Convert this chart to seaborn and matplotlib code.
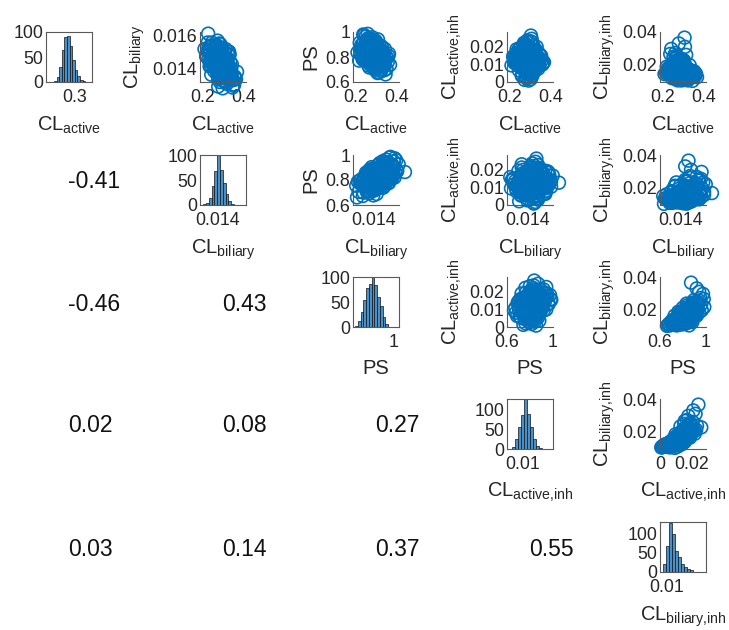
import numpy as np
import pandas as pd
import matplotlib
matplotlib.use("Agg")
import matplotlib.pyplot as plt
import seaborn as sns

# ---------------- data ----------------
cl_active = [0.271, 0.307, 0.274, 0.291, 0.254, 0.319, 0.293, 0.279, 0.249, 0.288,
             0.310, 0.327, 0.263, 0.299, 0.260, 0.282, 0.341, 0.235, 0.277, 0.302,
             0.321, 0.285, 0.296, 0.243, 0.305, 0.260, 0.291, 0.310, 0.268, 0.352,
             0.279, 0.265, 0.316, 0.313, 0.223, 0.285, 0.296, 0.282, 0.307, 0.251,
             0.324, 0.271, 0.274, 0.333, 0.240, 0.293, 0.302, 0.257, 0.299, 0.265,
             0.338, 0.277, 0.291, 0.302, 0.246, 0.288, 0.316, 0.254, 0.268, 0.361,
             0.225, 0.285, 0.291, 0.310, 0.271, 0.263, 0.330, 0.274, 0.293, 0.305,
             0.237, 0.260, 0.344, 0.285, 0.319, 0.257, 0.218, 0.307, 0.296, 0.279,
             0.313, 0.299, 0.232, 0.288, 0.279, 0.327, 0.282, 0.366, 0.268, 0.251,
             0.291, 0.299, 0.229, 0.277, 0.321, 0.307, 0.274, 0.246, 0.335, 0.257,
             0.279, 0.313, 0.257, 0.268, 0.296, 0.305, 0.240, 0.335, 0.293, 0.285,
             0.254, 0.299, 0.274, 0.221, 0.263, 0.324, 0.310, 0.279, 0.271, 0.347,
             0.291, 0.285, 0.249, 0.316, 0.265, 0.338, 0.282, 0.302, 0.229, 0.307,
             0.246, 0.330, 0.260, 0.293, 0.243, 0.319, 0.299, 0.277, 0.263, 0.288,
             0.355, 0.237, 0.291, 0.268, 0.313, 0.251, 0.265, 0.327, 0.282, 0.285,
             0.226, 0.310, 0.302, 0.257, 0.341, 0.305, 0.271, 0.277, 0.321, 0.260,
             0.215, 0.288, 0.319, 0.296, 0.240, 0.310, 0.288, 0.254, 0.358, 0.274,
             0.327, 0.268, 0.305, 0.232, 0.296, 0.279, 0.235, 0.302, 0.333, 0.249,
             0.285, 0.349, 0.263, 0.293, 0.251, 0.316, 0.271, 0.282, 0.324, 0.243,
             0.299, 0.307, 0.260, 0.265, 0.338, 0.279, 0.296, 0.207, 0.291, 0.313]
cl_biliary = [0.01447, 0.01381, 0.01480, 0.01403, 0.01441, 0.01414, 0.01490, 0.01386, 0.01485, 0.01452,
              0.01397, 0.01353, 0.01518, 0.01430, 0.01469, 0.01419, 0.01348, 0.01502, 0.01370, 0.01458,
              0.01392, 0.01436, 0.01425, 0.01529, 0.01326, 0.01463, 0.01474, 0.01408, 0.01408, 0.01304,
              0.01452, 0.01496, 0.01364, 0.01397, 0.01557, 0.01447, 0.01469, 0.01342, 0.01430, 0.01458,
              0.01414, 0.01419, 0.01513, 0.01375, 0.01540, 0.01408, 0.01441, 0.01480, 0.01359, 0.01447,
              0.01403, 0.01463, 0.01331, 0.01507, 0.01425, 0.01381, 0.01430, 0.01524, 0.01414, 0.01337,
              0.01610, 0.01392, 0.01441, 0.01315, 0.01397, 0.01474, 0.01485, 0.01496, 0.01353, 0.01452,
              0.01419, 0.01535, 0.01287, 0.01375, 0.01463, 0.01403, 0.01474, 0.01364, 0.01490, 0.01436,
              0.01458, 0.01386, 0.01441, 0.01518, 0.01551, 0.01370, 0.01348, 0.01381, 0.01447, 0.01480,
              0.01458, 0.01419, 0.01502, 0.01430, 0.01419, 0.01469, 0.01293, 0.01485, 0.01359, 0.01513,
              0.01463, 0.01408, 0.01496, 0.01381, 0.01430, 0.01364, 0.01452, 0.01403, 0.01375, 0.01546,
              0.01447, 0.01392, 0.01337, 0.01507, 0.01441, 0.01480, 0.01469, 0.01397, 0.01359, 0.01331,
              0.01524, 0.01436, 0.01480, 0.01309, 0.01430, 0.01370, 0.01474, 0.01452, 0.01529, 0.01414,
              0.01485, 0.01342, 0.01490, 0.01370, 0.01458, 0.01441, 0.01386, 0.01513, 0.01408, 0.01447,
              0.01353, 0.01463, 0.01375, 0.01535, 0.01436, 0.01419, 0.01403, 0.01502, 0.01320, 0.01430,
              0.01458, 0.01463, 0.01348, 0.01524, 0.01425, 0.01326, 0.01568, 0.01397, 0.01381, 0.01436,
              0.01474, 0.01485, 0.01452, 0.01480, 0.01364, 0.01518, 0.01419, 0.01386, 0.01342, 0.01447,
              0.01392, 0.01540, 0.01463, 0.01414, 0.01403, 0.01496, 0.01507, 0.01353, 0.01441, 0.01469,
              0.01408, 0.01298, 0.01490, 0.01370, 0.01430, 0.01458, 0.01441, 0.01397, 0.01502, 0.01557,
              0.01386, 0.01469, 0.01425, 0.01480, 0.01359, 0.01529, 0.01282, 0.01518, 0.01430, 0.01375]
ps = [0.831, 0.765, 0.892, 0.804, 0.853, 0.732, 0.870, 0.815, 0.930, 0.782,
      0.842, 0.705, 0.881, 0.820, 0.798, 0.859, 0.754, 0.908, 0.771, 0.837,
      0.809, 0.875, 0.743, 0.848, 0.787, 0.952, 0.826, 0.721, 0.864, 0.793,
      0.897, 0.776, 0.831, 0.677, 0.870, 0.804, 0.919, 0.760, 0.853, 0.815,
      0.886, 0.738, 0.842, 0.782, 0.974, 0.820, 0.749, 0.859, 0.798, 0.903,
      0.771, 0.837, 0.699, 0.875, 0.809, 0.848, 0.765, 0.925, 0.787, 0.826,
      0.864, 0.727, 0.853, 0.804, 0.892, 0.754, 0.831, 0.941, 0.793, 0.870,
      0.776, 0.842, 0.661, 0.881, 0.815, 0.820, 0.914, 0.716, 0.848, 0.798,
      0.897, 0.760, 0.837, 0.809, 0.958, 0.782, 0.859, 0.738, 0.826, 0.886,
      0.771, 0.853, 0.804, 0.919, 0.688, 0.842, 0.787, 0.870, 0.749, 0.985,
      0.848, 0.776, 0.914, 0.809, 0.837, 0.749, 0.875, 0.820, 0.710, 0.859,
      0.793, 0.886, 0.765, 0.831, 0.936, 0.787, 0.870, 0.732, 0.842, 0.804,
      0.903, 0.754, 0.826, 0.771, 0.864, 0.694, 0.892, 0.815, 0.853, 0.798,
      0.963, 0.743, 0.820, 0.881, 0.782, 0.837, 0.727, 0.870, 0.809, 0.908,
      0.760, 0.842, 0.787, 0.947, 0.804, 0.859, 0.716, 0.875, 0.776, 0.831,
      0.897, 0.738, 0.848, 0.815, 0.864, 0.672, 0.925, 0.793, 0.826, 0.886,
      0.771, 0.853, 0.749, 0.930, 0.798, 0.837, 0.760, 0.903, 0.809, 0.870,
      0.721, 0.820, 0.881, 0.782, 0.848, 0.804, 0.980, 0.765, 0.842, 0.793,
      0.892, 0.705, 0.859, 0.787, 0.919, 0.826, 0.743, 0.853, 0.776, 0.875,
      0.815, 0.941, 0.732, 0.831, 0.798, 0.908, 0.754, 0.837, 0.771, 0.864]
cl_active_inh = [0.0125, 0.0093, 0.0143, 0.0174, 0.0102, 0.0111, 0.0156, 0.0062, 0.0147, 0.0134,
                 0.0080, 0.0098, 0.0192, 0.0120, 0.0039, 0.0138, 0.0161, 0.0107, 0.0089, 0.0260,
                 0.0116, 0.0084, 0.0143, 0.0129, 0.0075, 0.0170, 0.0098, 0.0053, 0.0183, 0.0147,
                 0.0120, 0.0107, 0.0152, 0.0080, 0.0134, 0.0201, 0.0093, 0.0021, 0.0161, 0.0111,
                 0.0129, 0.0125, 0.0066, 0.0138, 0.0179, 0.0089, 0.0165, 0.0116, 0.0228, 0.0143,
                 0.0102, 0.0048, 0.0120, 0.0174, 0.0156, 0.0080, 0.0071, 0.0152, 0.0129, 0.0107,
                 0.0125, 0.0188, 0.0008, 0.0134, 0.0161, 0.0084, 0.0197, 0.0098, 0.0057, 0.0242,
                 0.0120, 0.0147, 0.0093, 0.0111, 0.0170, 0.0035, 0.0138, 0.0156, 0.0089, 0.0143,
                 0.0206, 0.0075, 0.0161, 0.0102, 0.0129, 0.0179, 0.0071, 0.0111, 0.0219, 0.0080,
                 0.0147, 0.0125, 0.0116, 0.0210, 0.0062, 0.0030, 0.0138, 0.0188, 0.0098, 0.0152,
                 0.0134, 0.0111, 0.0161, 0.0147, 0.0071, 0.0129, 0.0120, 0.0143, 0.0057, 0.0165,
                 0.0093, 0.0134, 0.0192, 0.0107, 0.0174, 0.0084, 0.0053, 0.0152, 0.0210, 0.0125,
                 0.0102, 0.0044, 0.0156, 0.0116, 0.0183, 0.0138, 0.0089, 0.0017, 0.0143, 0.0170,
                 0.0129, 0.0080, 0.0120, 0.0197, 0.0066, 0.0147, 0.0102, 0.0075, 0.0179, 0.0138,
                 0.0120, 0.0098, 0.0161, 0.0188, 0.0048, 0.0152, 0.0134, 0.0125, 0.0093, 0.0233,
                 0.0111, 0.0071, 0.0156, 0.0080, 0.0129, 0.0107, 0.0165, 0.0026, 0.0174, 0.0084,
                 0.0143, 0.0201, 0.0089, 0.0147, 0.0120, 0.0062, 0.0219, 0.0134, 0.0098, 0.0161,
                 0.0125, 0.0111, 0.0035, 0.0183, 0.0102, 0.0152, 0.0156, 0.0053, 0.0138, 0.0165,
                 0.0093, 0.0147, 0.0129, 0.0066, 0.0192, 0.0116, 0.0012, 0.0170, 0.0129, 0.0102,
                 0.0143, 0.0224, 0.0084, 0.0206, 0.0075, 0.0120, 0.0156, 0.0093, 0.0134, 0.0062]
cl_biliary_inh = [0.0152, 0.0123, 0.0181, 0.0172, 0.0145, 0.0120, 0.0194, 0.0128, 0.0204, 0.0139,
                  0.0134, 0.0114, 0.0241, 0.0137, 0.0111, 0.0168, 0.0149, 0.0164, 0.0131, 0.0224,
                  0.0128, 0.0152, 0.0137, 0.0160, 0.0117, 0.0270, 0.0142, 0.0106, 0.0185, 0.0156,
                  0.0176, 0.0125, 0.0156, 0.0109, 0.0172, 0.0190, 0.0160, 0.0103, 0.0199, 0.0139,
                  0.0168, 0.0123, 0.0131, 0.0145, 0.0295, 0.0139, 0.0152, 0.0181, 0.0209, 0.0190,
                  0.0128, 0.0120, 0.0111, 0.0219, 0.0149, 0.0137, 0.0117, 0.0246, 0.0134, 0.0142,
                  0.0164, 0.0160, 0.0100, 0.0137, 0.0214, 0.0114, 0.0194, 0.0181, 0.0123, 0.0365,
                  0.0139, 0.0164, 0.0097, 0.0156, 0.0176, 0.0111, 0.0185, 0.0134, 0.0149, 0.0152,
                  0.0258, 0.0109, 0.0168, 0.0131, 0.0230, 0.0164, 0.0128, 0.0120, 0.0204, 0.0145,
                  0.0142, 0.0172, 0.0145, 0.0329, 0.0100, 0.0117, 0.0131, 0.0199, 0.0117, 0.0214,
                  0.0164, 0.0131, 0.0209, 0.0149, 0.0125, 0.0137, 0.0160, 0.0152, 0.0106, 0.0190,
                  0.0128, 0.0172, 0.0176, 0.0145, 0.0235, 0.0128, 0.0123, 0.0139, 0.0204, 0.0137,
                  0.0168, 0.0103, 0.0164, 0.0125, 0.0209, 0.0120, 0.0152, 0.0109, 0.0181, 0.0168,
                  0.0194, 0.0111, 0.0142, 0.0230, 0.0114, 0.0156, 0.0117, 0.0139, 0.0181, 0.0185,
                  0.0134, 0.0134, 0.0156, 0.0252, 0.0111, 0.0176, 0.0128, 0.0164, 0.0123, 0.0235,
                  0.0156, 0.0111, 0.0172, 0.0125, 0.0160, 0.0103, 0.0219, 0.0106, 0.0168, 0.0149,
                  0.0145, 0.0214, 0.0120, 0.0199, 0.0134, 0.0131, 0.0185, 0.0190, 0.0128, 0.0185,
                  0.0123, 0.0142, 0.0120, 0.0176, 0.0145, 0.0160, 0.0264, 0.0109, 0.0152, 0.0164,
                  0.0156, 0.0131, 0.0168, 0.0117, 0.0246, 0.0139, 0.0100, 0.0181, 0.0137, 0.0152,
                  0.0149, 0.0308, 0.0114, 0.0194, 0.0123, 0.0172, 0.0145, 0.0139, 0.0131, 0.0134]

# histogram bin edges and counts (diagonal panels)
hist_active_edges = [0.228, 0.237, 0.246, 0.255, 0.264, 0.273, 0.282, 0.291, 0.300, 0.309, 0.318, 0.327, 0.336]
hist_active_counts = [3, 10, 30, 65, 90, 93, 72, 45, 25, 12, 5, 2]
hist_biliary_edges = [0.01280, 0.01304, 0.01328, 0.01352, 0.01376, 0.01400, 0.01424, 0.01448,
                      0.01472, 0.01496, 0.01520, 0.01544]
hist_biliary_counts = [2, 5, 15, 38, 70, 102, 72, 45, 22, 8, 3]
hist_ps_edges = [0.620, 0.647, 0.674, 0.701, 0.728, 0.755, 0.782, 0.809, 0.836, 0.863, 0.890, 0.917, 0.944, 0.971]
hist_ps_counts = [2, 12, 30, 55, 80, 88, 102, 85, 62, 42, 20, 6, 1]
hist_active_inh_edges = [0.0035, 0.0054, 0.0073, 0.0092, 0.0111, 0.0130, 0.0149, 0.0168, 0.0187, 0.0206, 0.0225]
hist_active_inh_counts = [4, 24, 55, 85, 124, 88, 55, 25, 8, 2]
hist_biliary_inh_edges = [0.0072, 0.0095, 0.0118, 0.0141, 0.0164, 0.0187, 0.0210, 0.0233,
                          0.0256, 0.0279, 0.0302, 0.0325, 0.0348, 0.0371, 0.0394]
hist_biliary_inh_counts = [22, 68, 127, 98, 55, 38, 22, 13, 8, 4, 1, 0, 0, 1]

# correlation coefficients (lower triangle, row by row)
corr_values = [[-0.41],
               [-0.46, 0.43],
               [0.02, 0.08, 0.27],
               [0.03, 0.14, 0.37, 0.55]]

var_labels = [r'$\mathregular{CL_{active}}$', r'$\mathregular{CL_{biliary}}$', 'PS',
              r'$\mathregular{CL_{active{,}inh}}$', r'$\mathregular{CL_{biliary{,}inh}}$']

# ---------------- styling ----------------
sns.set_theme(style="white")
plt.rcParams['font.family'] = ['Liberation Sans', 'DejaVu Sans']
plt.rcParams['mathtext.fontset'] = 'custom'
plt.rcParams['mathtext.rm'] = 'Liberation Sans'
plt.rcParams['mathtext.it'] = 'Liberation Sans'
plt.rcParams['mathtext.bf'] = 'Liberation Sans'

df = pd.DataFrame({'a': cl_active, 'b': cl_biliary, 'ps': ps,
                   'ai': cl_active_inh, 'bi': cl_biliary_inh})
cols = ['a', 'b', 'ps', 'ai', 'bi']
hists = [(hist_active_edges, hist_active_counts), (hist_biliary_edges, hist_biliary_counts),
         (hist_ps_edges, hist_ps_counts), (hist_active_inh_edges, hist_active_inh_counts),
         (hist_biliary_inh_edges, hist_biliary_inh_counts)]

hist_xlim = [(0.2, 0.36), (0.0125, 0.0165), (0.6, 1.05), (0.0, 0.03), (0.005, 0.04)]
hist_xticks = [([0.3], ['0.3']), ([0.014], ['0.014']), ([1.0], ['1']), ([0.01], ['0.01']), ([0.01], ['0.01'])]
hist_ylim = [100, 102, 102, 125, 130]
sc_xlim = {0: (0.185, 0.41), 1: (0.0126, 0.0157), 2: (0.6, 1.0), 3: (0.0, 0.029)}
sc_xticks = {0: ([0.2, 0.4], ['0.2', '0.4']), 1: ([0.014], ['0.014']),
             2: ([0.6, 1.0], ['0.6', '1']), 3: ([0.0, 0.02], ['0', '0.02'])}
sc_ylim = {1: (0.0132, 0.0162), 2: (0.6, 1.0), 3: (0.0, 0.028), 4: (0.009, 0.040)}
sc_yticks = {1: ([0.014, 0.016], ['0.014', '0.016']), 2: ([0.6, 0.8, 1.0], ['0.6', '0.8', '1']),
             3: ([0.0, 0.01, 0.02], ['0', '0.01', '0.02']), 4: ([0.02, 0.04], ['0.02', '0.04'])}

W, H = 729, 630
col_left = [46, 200, 353, 507, 660]
row_top = [32, 155, 277, 399, 522]
aw, ah = 46, 50

blue = '#0072BD'
txt = '#262626'
spine_c = '#5a5a5a'
LABEL_FS = 14.5
TICK_FS = 12.8

fig = plt.figure(figsize=(W / 100, H / 100), dpi=100)


def rect(r, c):
    return [col_left[c] / W, 1 - (row_top[r] + ah) / H, aw / W, ah / H]


def style(ax, box):
    for s in ['top', 'right', 'left', 'bottom']:
        ax.spines[s].set_color(spine_c)
        ax.spines[s].set_linewidth(0.8)
    if not box:
        ax.spines['top'].set_visible(False)
        ax.spines['right'].set_visible(False)
    ax.tick_params(direction='in', length=2, width=0.6, colors=spine_c,
                   labelcolor=txt, labelsize=TICK_FS)
    ax.tick_params(axis='x', pad=5)
    ax.tick_params(axis='y', pad=2)
    ax.xaxis.label.set_color(txt)
    ax.yaxis.label.set_color(txt)


for r in range(5):
    for c in range(5):
        if c < r:
            x = (col_left[c] + aw / 2 - 1) / W
            y = 1 - (row_top[r] + ah / 2 + 2) / H
            fig.text(x, y, f'{corr_values[r - 1][c]:.2f}', ha='left', va='center',
                     fontsize=16.5, color='#111111')
            continue
        ax = fig.add_axes(rect(r, c))
        if r == c:
            edges, counts = hists[r]
            centers = [(edges[k] + edges[k + 1]) / 2 for k in range(len(counts))]
            sns.histplot(x=centers, weights=counts, bins=edges, ax=ax,
                         color='#4a90c8', edgecolor='#111111', linewidth=0.5, alpha=1.0)
            ax.set_xlim(*hist_xlim[r])
            ax.set_ylim(0, hist_ylim[r])
            ax.set_yticks([0, 50, 100])
            ax.set_yticklabels(['0', '50', '100'])
            ax.set_xticks(hist_xticks[r][0])
            ax.set_xticklabels(hist_xticks[r][1])
            ax.set_ylabel('')
            ax.set_xlabel(var_labels[r], fontsize=LABEL_FS, labelpad=6)
            style(ax, True)
        else:
            sns.scatterplot(data=df, x=cols[r], y=cols[c], ax=ax, s=85,
                            color=blue, facecolor='none', edgecolor=blue,
                            linewidth=1.2, clip_on=False, legend=False)
            ax.set_xlim(*sc_xlim[r])
            ax.set_ylim(*sc_ylim[c])
            ax.set_xticks(sc_xticks[r][0])
            ax.set_xticklabels(sc_xticks[r][1])
            ax.set_yticks(sc_yticks[c][0])
            ax.set_yticklabels(sc_yticks[c][1])
            ax.set_xlabel(var_labels[r], fontsize=LABEL_FS, labelpad=6)
            ax.set_ylabel(var_labels[c], fontsize=LABEL_FS, labelpad=4)
            style(ax, False)

fig.savefig('out.png', dpi=100)
